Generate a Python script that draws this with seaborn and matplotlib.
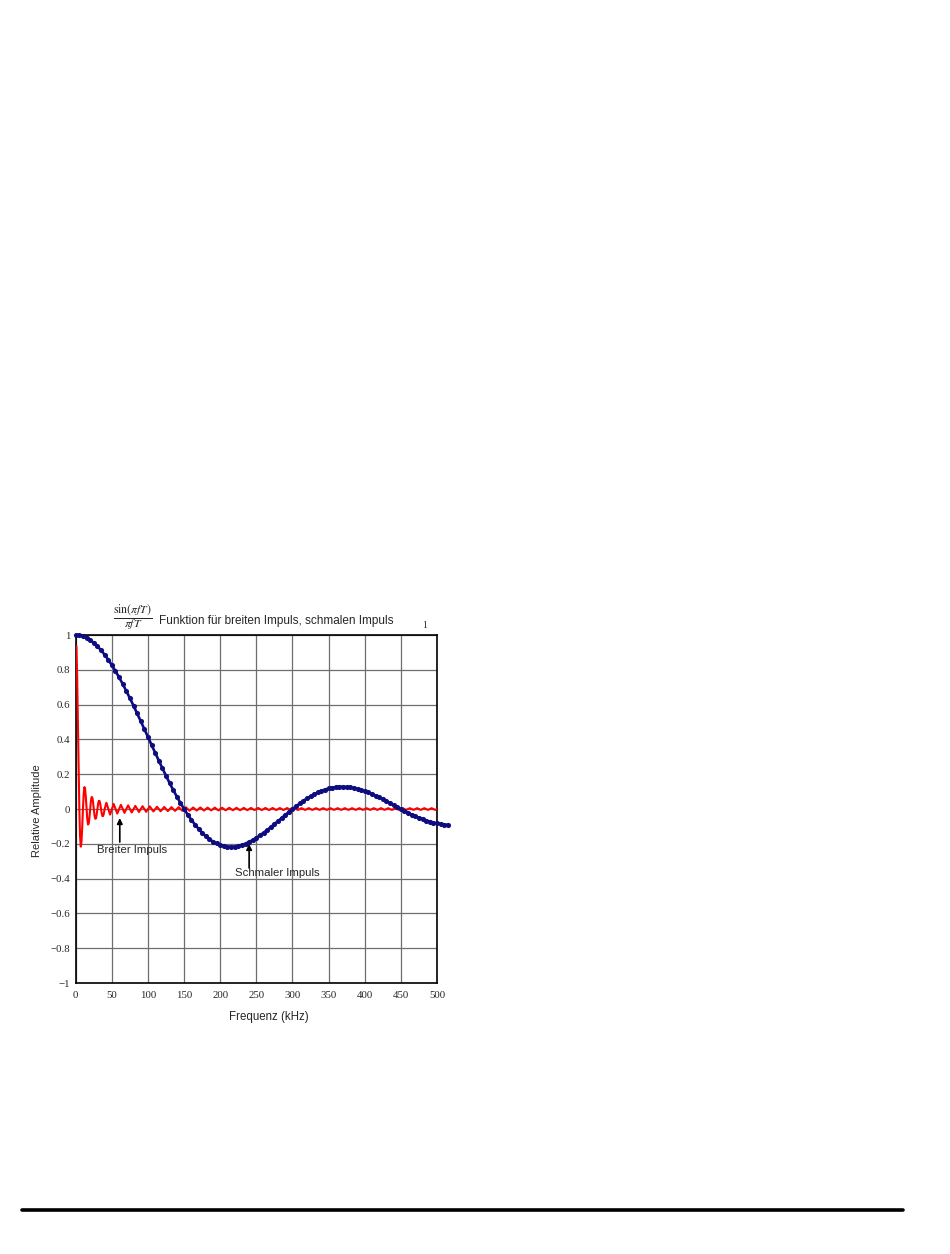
import numpy as np
import matplotlib
matplotlib.use("Agg")
import matplotlib.pyplot as plt
from matplotlib.lines import Line2D
import seaborn as sns

# schmaler Impuls (blau, Punkte) - Werte alle 5 kHz
blue_freq = np.arange(0, 520, 5)
blue_amp = [
    1.000, 0.998, 0.993, 0.984, 0.971, 0.955, 0.935, 0.913, 0.887, 0.858,
    0.827, 0.793, 0.757, 0.719, 0.678, 0.637, 0.594, 0.549, 0.505, 0.459,
    0.414, 0.368, 0.323, 0.278, 0.234, 0.191, 0.149, 0.109, 0.071, 0.034,
    0.000, -0.032, -0.062, -0.089, -0.114, -0.136, -0.156, -0.173, -0.187, -0.198,
    -0.207, -0.213, -0.216, -0.217, -0.216, -0.212, -0.206, -0.199, -0.189, -0.178,
    -0.165, -0.151, -0.136, -0.121, -0.104, -0.087, -0.069, -0.052, -0.034, -0.017,
    0.000, 0.016, 0.032, 0.047, 0.061, 0.073, 0.085, 0.095, 0.104, 0.112,
    0.118, 0.123, 0.126, 0.128, 0.128, 0.127, 0.125, 0.121, 0.116, 0.110,
    0.103, 0.095, 0.087, 0.077, 0.067, 0.056, 0.045, 0.034, 0.023, 0.011,
    0.000, -0.011, -0.022, -0.032, -0.041, -0.050, -0.058, -0.066, -0.072, -0.078,
    -0.083, -0.086, -0.089, -0.091,
]

# breiter Impuls (rot) - Anfang alle 1 kHz, danach nur die Spitzen der Welligkeit
red_head_freq = np.arange(1, 41)
red_head_amp = [
    0.936, 0.757, 0.505, 0.234, 0.000, -0.156, -0.216, -0.189, -0.104, 0.000,
    0.085, 0.126, 0.116, 0.067, 0.000, -0.058, -0.089, -0.084, -0.049, 0.000,
    0.045, 0.069, 0.066, 0.039, 0.000, -0.036, -0.056, -0.054, -0.032, 0.000,
    0.030, 0.047, 0.046, 0.028, 0.000, -0.026, -0.041, -0.040, -0.024, 0.000,
]
red_tail_freq = np.arange(42.5, 500, 5)
red_tail_amp = [
    0.036, -0.032, 0.029, -0.026, 0.024, -0.022, 0.021, -0.020, 0.018, -0.017,
    0.016, -0.016, 0.015, -0.014, 0.013, -0.013, 0.012, -0.012, 0.011, -0.011,
    0.011, -0.010, 0.010, -0.010, 0.009, -0.009, 0.009, -0.009, 0.008, -0.008,
    0.008, -0.008, 0.0075, -0.0075, 0.007, -0.007, 0.007, -0.007, 0.0065, -0.0065,
    0.0062, -0.0061, 0.006, -0.006, 0.006, -0.006, 0.0058, -0.0057, 0.0056, -0.0055,
    0.0055, -0.0054, 0.0053, -0.0053, 0.0052, -0.0052, 0.0051, -0.0051, 0.005, -0.005,
    0.005, -0.005, 0.005, -0.005, 0.005, -0.005, 0.005, -0.005, 0.005, -0.005,
    0.005, -0.005, 0.005, -0.005, 0.005, -0.005, 0.005, -0.005, 0.005, -0.005,
    0.005, -0.005, 0.005, -0.005, 0.005, -0.005, 0.005, -0.005, 0.005, -0.005,
    0.005, -0.005,
]
red_end_freq = [500]
red_end_amp = [0.0]

red_freq = np.concatenate([red_head_freq, red_tail_freq, red_end_freq])
red_amp = np.concatenate([red_head_amp, red_tail_amp, red_end_amp])

x_ticks = [0, 50, 100, 150, 200, 250, 300, 350, 400, 450, 500]
x_tick_labels = [str(t) for t in x_ticks]
y_ticks = [1, 0.8, 0.6, 0.4, 0.2, 0, -0.2, -0.4, -0.6, -0.8, -1]
y_tick_labels = ["1", "0.8", "0.6", "0.4", "0.2", "0",
                 "\u22120.2", "\u22120.4", "\u22120.6", "\u22120.8", "\u22121"]

# Pfeile: (x, Spitze, Ende) und Textposition
breit_arrow = (61, -0.052, -0.19)
breit_text = (78, -0.234)
schmal_arrow = (240, -0.201, -0.339)
schmal_text = (279, -0.368)

sns.set_style("white")
plt.rcParams['font.family'] = ['Liberation Sans', 'DejaVu Sans']
plt.rcParams['mathtext.fontset'] = 'stix'

fig = plt.figure(figsize=(9.5, 12.54), dpi=100)
ax = fig.add_axes([0.0797, 0.2161, 0.3803, 0.2775])

sns.lineplot(x=red_freq, y=red_amp, color='red', linewidth=1.5, ax=ax, zorder=3)
sns.lineplot(x=blue_freq, y=blue_amp, color='#0d0d80', linewidth=1.9,
             marker='o', markersize=3.7, markeredgewidth=0, ax=ax,
             clip_on=False, zorder=4)

ax.set_xlim(0, 500)
ax.set_ylim(-1, 1)
ax.set_xticks(x_ticks)
ax.set_xticklabels(x_tick_labels, family='Liberation Serif', fontsize=7.8)
ax.set_yticks(y_ticks)
ax.set_yticklabels(y_tick_labels, family='Liberation Serif', fontsize=7.8)
ax.tick_params(axis='both', length=0)
ax.tick_params(axis='x', pad=6)
ax.tick_params(axis='y', pad=4)

ax.grid(True, color='#6e6e6e', linewidth=0.9)
for s in ax.spines.values():
    s.set_color('black')
    s.set_linewidth(1.2)

ax.set_xlabel('Frequenz (kHz)', fontsize=8.3)
ax.xaxis.set_label_coords(0.535, -0.08)
ax.set_ylabel('Relative Amplitude', fontsize=8)
ax.yaxis.set_label_coords(-0.093, 0.494)

# Beschriftungen mit Pfeilen
arrow_style = dict(arrowstyle='-|>', color='black', lw=1.2, mutation_scale=8,
                   shrinkA=0, shrinkB=0)
ax.annotate('', xy=(breit_arrow[0], breit_arrow[1]),
            xytext=(breit_arrow[0], breit_arrow[2]), arrowprops=arrow_style)
ax.text(breit_text[0], breit_text[1], 'Breiter Impuls', ha='center', va='center',
        fontsize=8.2)
ax.annotate('', xy=(schmal_arrow[0], schmal_arrow[1]),
            xytext=(schmal_arrow[0], schmal_arrow[2]), arrowprops=arrow_style)
ax.text(schmal_text[0], schmal_text[1], 'Schmaler Impuls', ha='center', va='center',
        fontsize=8.2)

# Titel: Bruch + Text
fig.text(133 / 950, 1 - 617 / 1254, r'$\dfrac{\sin(\pi f T)}{\pi f T}$',
         ha='center', va='center', fontsize=8.5)
fig.text(159 / 950, 1 - 621 / 1254, 'Funktion f\u00fcr breiten Impuls, schmalen Impuls',
         ha='left', va='center', fontsize=8.5)
fig.text(425 / 950, 1 - 626 / 1254, '1', ha='center', va='center',
         family='Liberation Serif', fontsize=7)

# Linie am Seitenende
fig.add_artist(Line2D([22 / 950, 903 / 950], [1 - 1210 / 1254] * 2,
                      color='black', linewidth=2.6))

fig.savefig('out.png', dpi=100)
